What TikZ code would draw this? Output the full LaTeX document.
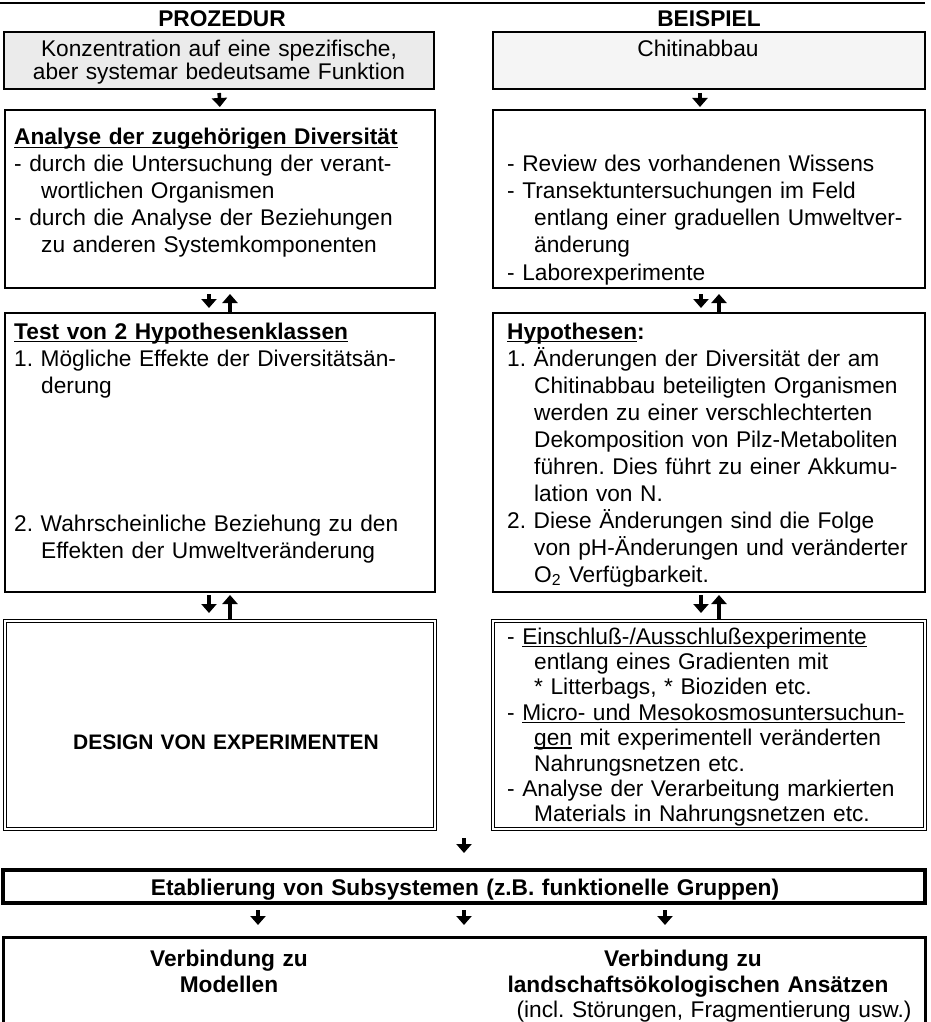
\documentclass[tikz,border=0pt]{standalone}
\usepackage{fontspec}
\setmainfont{Liberation Sans}
\usepackage{tikz}
\usetikzlibrary{arrows.meta, positioning, calc}
\frenchspacing
\newcommand{\fs}{\fontsize{22.7pt}{27pt}\selectfont}
\newcommand{\ind}{\hspace*{27pt}}
\newcommand{\ulin}[1]{\setbox0\hbox{#1}\rlap{\rule[-3pt]{\wd0}{1.3pt}}\box0\relax}
\tikzstyle{box} = [draw, line width=2pt, anchor=north west, inner sep=0pt, outer sep=0pt]
\tikzstyle{dbox} = [box, line width=1pt, double, double distance=2.4pt]
\tikzstyle{txt} = [anchor=base west, inner sep=0pt, text width=440pt, align=left, font=\fs]
\tikzstyle{ctxt} = [anchor=base, inner sep=0pt, text width=900pt, align=center, font=\fs]
\tikzstyle{arr} = [-{Triangle[width=15pt,length=9pt]}, line width=3.6pt]

\begin{document}
\frenchspacing
\begin{tikzpicture}[x=1pt, y=-1pt]
    \useasboundingbox (0,0) rectangle (931,1022);

    % Header
    \draw[line width=2.5pt] (0,3) -- (925,3);
    \node[ctxt, font=\fs\bfseries] (hp) at (222,27) {PROZEDUR};
    \node[ctxt, font=\fs\bfseries] (hb) at (709,27) {BEISPIEL};

    % Boxes
    \node[box, fill=black!8, minimum width=430pt, minimum height=57pt] (b1l) at (4,32) {};
    \node[box, fill=black!4, minimum width=432pt, minimum height=57pt] (b1r) at (493,32) {};
    \node[box, minimum width=430pt, minimum height=178pt] (b2l) at (5,110) {};
    \node[box, minimum width=432pt, minimum height=178pt] (b2r) at (493,110) {};
    \node[box, minimum width=430pt, minimum height=279pt] (b3l) at (5,313) {};
    \node[box, minimum width=432pt, minimum height=279pt] (b3r) at (493,313) {};
    \node[dbox, minimum width=430pt, minimum height=208pt] (b4l) at (5,621) {};
    \node[dbox, minimum width=432pt, minimum height=208pt] (b4r) at (493,621) {};
    \node[box, line width=3.5pt, minimum width=922pt, minimum height=33pt] (b5) at (3,870) {};
    \node[anchor=north west, inner sep=0pt, outer sep=0pt, minimum width=922pt, minimum height=85pt] (b6) at (3,937) {};
    \draw[line width=3pt] (b6.south west) |- (b6.north east) -- (b6.south east);

    % Texts
    \node[ctxt, font=\fontsize{22.7pt}{23pt}\selectfont] (t1l) at (219,57)
        {Konzentration auf eine spezifische,\\aber systemar bedeutsame Funktion};
    \node[ctxt] (t1r) at (698,57) {Chitinabbau};

    \node[txt] (t2l) at (14,145) {\ulin{\textbf{Analyse der zugehörigen Diversität}}\\
        - durch die Untersuchung der verant-\\
        \ind wortlichen Organismen\\
        - durch die Analyse der Beziehungen\\
        \ind zu anderen Systemkomponenten};
    \node[txt] (t2r) at (507,145) {~\\
        - Review des vorhandenen Wissens\\
        - Transektuntersuchungen im Feld\\
        \ind entlang einer graduellen Umweltver-\\
        \ind änderung\\
        - Laborexperimente};

    \node[txt] (t3l) at (14,339) {\ulin{\textbf{Test von 2 Hypothesenklassen}}\\
        1. Mögliche Effekte der Diversitätsän-\\
        \ind derung\\[111pt]
        2. Wahrscheinliche Beziehung zu den\\
        \ind Effekten der Umweltveränderung};
    \node[txt] (t3r) at (507,339) {\ulin{\textbf{Hypothesen}}\textbf{:}\\
        1. Änderungen der Diversität der am\\
        \ind Chitinabbau beteiligten Organismen\\
        \ind werden zu einer verschlechterten\\
        \ind Dekomposition von Pilz-Metaboliten\\
        \ind führen. Dies führt zu einer Akkumu-\\
        \ind lation von N.\\
        2. Diese Änderungen sind die Folge\\
        \ind von pH-Änderungen und veränderter\\
        \ind O\textsubscript{2} Verfügbarkeit.};

    \node[ctxt, font=\fontsize{21pt}{25pt}\selectfont\bfseries] (t4l) at (226,749) {DESIGN VON EXPERIMENTEN};
    \node[txt, font=\fontsize{22.7pt}{25.4pt}\selectfont] (t4r) at (507,644)
        {- \ulin{Einschluß-/Ausschlußexperimente}\\
        \ind entlang eines Gradienten mit\\
        \ind * Litterbags, * Bioziden etc.\\
        - \ulin{Micro- und Mesokosmosuntersuchun-}\\
        \ind \ulin{gen} mit experimentell veränderten\\
        \ind Nahrungsnetzen etc.\\
        - Analyse der Verarbeitung markierten\\
        \ind Materials in Nahrungsnetzen etc.};

    \node[ctxt, font=\fs\bfseries] (t5) at (465,895)
        {Etablierung von Subsystemen (z.B. funktionelle Gruppen)};

    \node[ctxt, font=\fontsize{22.7pt}{26pt}\selectfont\bfseries] (t6l) at (229,966)
        {Verbindung zu\\Modellen};
    \node[ctxt, font=\fs\bfseries] (t6r) at (683,966) {Verbindung zu};
    \node[ctxt, font=\fs\bfseries] (t6s) at (698,992) {landschaftsökologischen Ansätzen};
    \node[ctxt] (t6n) at (714,1017) {(incl. Störungen, Fragmentierung usw.)};

    % Arrows
    \draw[arr, shorten <=4pt, shorten >=3pt] (b1l.south) -- (b2l.north);
    \draw[arr, shorten <=4pt, shorten >=3pt] ([xshift=-9pt]b1r.south) -- ([xshift=-9pt]b2r.north);

    \draw[arr, shorten <=6pt, shorten >=5pt] ([xshift=-11pt]b2l.south) -- ([xshift=-11pt]b3l.north);
    \draw[arr, shorten <=1pt, shorten >=6pt] ([xshift=10pt]b3l.north) -- ([xshift=10pt]b2l.south);
    \draw[arr, shorten <=6pt, shorten >=5pt] ([xshift=-8pt]b2r.south) -- ([xshift=-8pt]b3r.north);
    \draw[arr, shorten <=1pt, shorten >=6pt] ([xshift=10pt]b3r.north) -- ([xshift=10pt]b2r.south);

    \draw[arr, shorten <=3pt, shorten >=8pt] ([xshift=-11pt]b3l.south) -- ([xshift=-11pt]b4l.north);
    \draw[arr, shorten <=1pt, shorten >=3pt] ([xshift=10pt]b4l.north) -- ([xshift=10pt]b3l.south);
    \draw[arr, shorten <=3pt, shorten >=8pt] ([xshift=-8pt]b3r.south) -- ([xshift=-8pt]b4r.north);
    \draw[arr, shorten <=1pt, shorten >=3pt] ([xshift=10pt]b4r.north) -- ([xshift=10pt]b3r.south);

    \coordinate (m4) at ($(b4l.south east)!0.5!(b4r.south west)$);
    \draw[arr, shorten <=9pt, shorten >=17pt] (m4) -- (m4 |- b5.north);

    \draw[arr, shorten <=7pt, shorten >=12pt] ([xshift=-206pt]b5.south) -- ([xshift=-206pt]b6.north);
    \draw[arr, shorten <=7pt, shorten >=12pt] (b5.south) -- (b6.north);
    \draw[arr, shorten <=7pt, shorten >=12pt] ([xshift=201pt]b5.south) -- ([xshift=201pt]b6.north);
\end{tikzpicture}
\end{document}
